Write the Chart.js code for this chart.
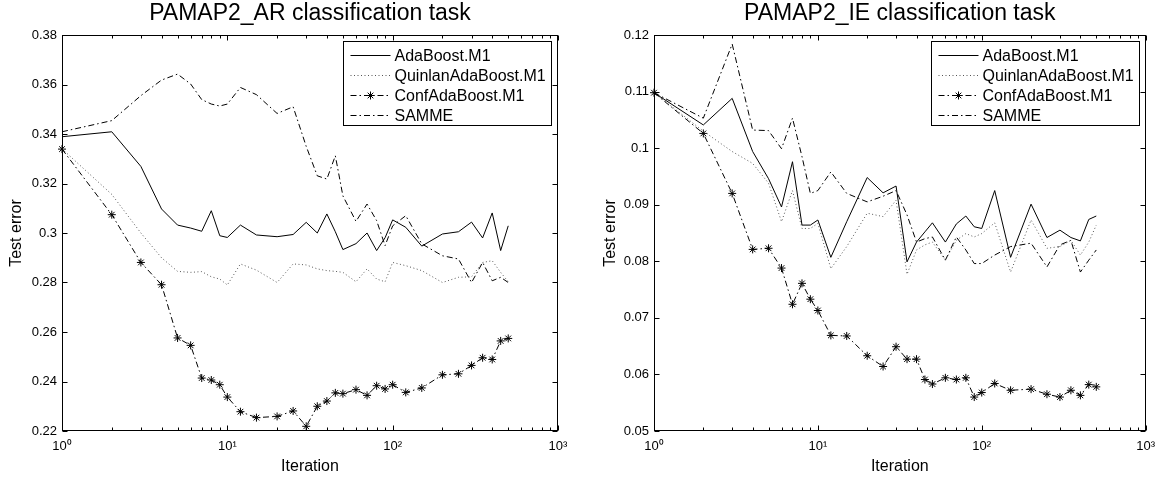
<!DOCTYPE html>
<html>
<head>
<meta charset="utf-8">
<script src="https://cdn.jsdelivr.net/npm/chart.js@4.4.1/dist/chart.umd.min.js"></script>
<style>
  body { margin: 0; background: #fff; }
  #wrap { position: relative; width: 1163px; height: 480px; }
  canvas { position: absolute; top: 0; }
</style>
</head>
<body>
<div id="wrap">
  <canvas id="arChart" width="581" height="480" style="left:0"></canvas>
  <canvas id="ieChart" width="571" height="480" style="left:592px"></canvas>
</div>
<script>
// boosting iterations (log x axis)
const iterations = [1, 2, 3, 4, 5, 6, 7, 8, 9, 10, 12, 15, 20, 25, 30, 35, 40, 45, 50,
  60, 70, 80, 90, 100, 120, 150, 200, 250, 300, 350, 400, 450, 500];

const seriesNames = ['AdaBoost.M1', 'QuinlanAdaBoost.M1', 'ConfAdaBoost.M1', 'SAMME'];

// PAMAP2_AR
const arAdaBoost = [0.3389, 0.3409, 0.3269, 0.3097, 0.3032, 0.3020, 0.3007, 0.3090, 0.2989, 0.2982,
  0.3032, 0.2992, 0.2985, 0.2994, 0.3043, 0.3000, 0.3077, 0.3005, 0.2933, 0.2957, 0.3000, 0.2929,
  0.2981, 0.3053, 0.3023, 0.2947, 0.2996, 0.3005, 0.3044, 0.2980, 0.3081, 0.2929, 0.3029];
const arQuinlan = [0.3340, 0.3156, 0.3000, 0.2900, 0.2845, 0.2841, 0.2844, 0.2823, 0.2814, 0.2790,
  0.2875, 0.2850, 0.2800, 0.2875, 0.2871, 0.2855, 0.2848, 0.2845, 0.2841, 0.2803, 0.2855, 0.2814,
  0.2803, 0.2881, 0.2868, 0.2848, 0.2800, 0.2821, 0.2823, 0.2881, 0.2888, 0.2841, 0.2803];
const arConf = [0.3339, 0.3074, 0.2881, 0.2791, 0.2576, 0.2546, 0.2414, 0.2406, 0.2387, 0.2337,
  0.2278, 0.2254, 0.2259, 0.2281, 0.2219, 0.2300, 0.2321, 0.2354, 0.2351, 0.2367, 0.2344, 0.2383,
  0.2370, 0.2387, 0.2356, 0.2374, 0.2427, 0.2431, 0.2465, 0.2496, 0.2489, 0.2564, 0.2574];
const arSamme = [0.3409, 0.3454, 0.3555, 0.3618, 0.3642, 0.3602, 0.3539, 0.3521, 0.3513, 0.3521,
  0.3588, 0.3559, 0.3483, 0.3510, 0.3350, 0.3231, 0.3218, 0.3312, 0.3150, 0.3047, 0.3117, 0.3050,
  0.2949, 0.3029, 0.3070, 0.2956, 0.2908, 0.2895, 0.2800, 0.2881, 0.2807, 0.2821, 0.2800];

// PAMAP2_IE
const ieAdaBoost = [0.1098, 0.1041, 0.1088, 0.0994, 0.0946, 0.0896, 0.0976, 0.0864, 0.0864, 0.0873,
  0.0807, 0.0870, 0.0948, 0.0921, 0.0933, 0.0799, 0.0834, 0.0852, 0.0868, 0.0834, 0.0866, 0.0880,
  0.0861, 0.0858, 0.0925, 0.0807, 0.0901, 0.0842, 0.0855, 0.0842, 0.0836, 0.0874, 0.0880];
const ieQuinlan = [0.1098, 0.1030, 0.0994, 0.0973, 0.0938, 0.0870, 0.0925, 0.0858, 0.0858, 0.0867,
  0.0787, 0.0826, 0.0885, 0.0879, 0.0908, 0.0777, 0.0820, 0.0829, 0.0834, 0.0802, 0.0837, 0.0849,
  0.0843, 0.0849, 0.0868, 0.0781, 0.0873, 0.0823, 0.0826, 0.0837, 0.0811, 0.0834, 0.0864];
const ieConf = [0.1098, 0.1026, 0.0920, 0.0821, 0.0823, 0.0788, 0.0724, 0.0761, 0.0733, 0.0713,
  0.0669, 0.0668, 0.0633, 0.0614, 0.0649, 0.0627, 0.0627, 0.0591, 0.0583, 0.0594, 0.0591, 0.0594,
  0.0560, 0.0568, 0.0584, 0.0572, 0.0574, 0.0565, 0.0560, 0.0572, 0.0563, 0.0582, 0.0578];
const ieSamme = [0.1098, 0.1053, 0.1184, 0.1032, 0.1031, 0.0999, 0.1053, 0.0985, 0.0920, 0.0925,
  0.0958, 0.0920, 0.0905, 0.0915, 0.0925, 0.0882, 0.0834, 0.0840, 0.0843, 0.0802, 0.0843, 0.0820,
  0.0796, 0.0796, 0.0811, 0.0826, 0.0832, 0.0790, 0.0829, 0.0837, 0.0781, 0.0802, 0.0820];

// ticks
const xMajorTicks = [1, 10, 100, 1000];
const xTickLabels = ['10\u2070', '10\u00b9', '10\u00b2', '10\u00b3'];
const xAllTicks = [1, 2, 3, 4, 5, 6, 7, 8, 9, 10, 20, 30, 40, 50, 60, 70, 80, 90,
  100, 200, 300, 400, 500, 600, 700, 800, 900, 1000];
const arYTicks = [0.22, 0.24, 0.26, 0.28, 0.30, 0.32, 0.34, 0.36, 0.38];
const ieYTicks = [0.05, 0.06, 0.07, 0.08, 0.09, 0.10, 0.11, 0.12];

Chart.defaults.font.family = '"Liberation Sans", Arial, Helvetica, sans-serif';
Chart.defaults.color = '#000';

const lineStyles = [
  { borderColor: '#000', borderDash: [], pointRadius: 0 },
  { borderColor: '#555', borderDash: [1, 2.5], pointRadius: 0 },
  { borderColor: '#000', borderDash: [6, 3, 1.5, 3], pointRadius: 4, pointStyle: 'star' },
  { borderColor: '#000', borderDash: [6, 3, 1.5, 3], pointRadius: 0 }
];

function drawStar(ctx, x, y, r) {
  if (Chart.helpers && Chart.helpers.drawPoint) {
    Chart.helpers.drawPoint(ctx, { pointStyle: 'star', radius: r, borderWidth: 1, rotation: 0 }, x, y);
  }
}

// MATLAB-like box, inward ticks and legend
const matlabAxes = {
  id: 'matlabAxes',
  afterDatasetsDraw(chart) {
    const { ctx, chartArea: a, scales: { x, y } } = chart;
    const L = Math.round(a.left) + 0.5, R = Math.round(a.right) - 0.5;
    const T = Math.round(a.top) + 0.5, B = Math.round(a.bottom) - 0.5;
    ctx.save();
    ctx.strokeStyle = '#000';
    ctx.lineWidth = 1;
    ctx.setLineDash([]);
    ctx.beginPath();
    x.ticks.forEach(t => {
      const px = Math.round(x.getPixelForValue(t.value)) + 0.5;
      const len = xMajorTicks.includes(t.value) ? 5 : 3;
      ctx.moveTo(px, B); ctx.lineTo(px, B - len);
      ctx.moveTo(px, T); ctx.lineTo(px, T + len);
    });
    y.ticks.forEach(t => {
      const py = Math.round(y.getPixelForValue(t.value)) + 0.5;
      ctx.moveTo(L, py); ctx.lineTo(L + 5, py);
      ctx.moveTo(R, py); ctx.lineTo(R - 5, py);
    });
    ctx.stroke();
    ctx.strokeRect(L, T, R - L, B - T);

    // legend
    const lx = Math.round(a.right - 215) + 0.5, ly = Math.round(a.top + 6) + 0.5;
    const lw = 208, lh = 84;
    ctx.fillStyle = '#fff';
    ctx.fillRect(lx, ly, lw, lh);
    ctx.strokeRect(lx, ly, lw, lh);
    ctx.font = '16px "Liberation Sans", Arial, sans-serif';
    ctx.textBaseline = 'middle';
    chart.data.datasets.forEach((ds, i) => {
      const yy = Math.round(ly + 13 + i * 20) + 0.5;
      ctx.strokeStyle = ds.borderColor;
      ctx.setLineDash(ds.borderDash);
      ctx.beginPath();
      ctx.moveTo(lx + 7, yy); ctx.lineTo(lx + 47, yy);
      ctx.stroke();
      ctx.setLineDash([]);
      ctx.strokeStyle = '#000';
      if (ds.pointRadius > 0) drawStar(ctx, lx + 27, yy, ds.pointRadius);
      ctx.fillStyle = '#000';
      ctx.fillText(ds.label, lx + 51, yy + 1);
    });
    ctx.restore();
  }
};

function makePanel(id, title, seriesValues, yTicks, rightPad, yTitlePad) {
  const datasets = seriesValues.map((vals, i) => Object.assign({
    label: seriesNames[i],
    data: iterations.map((it, k) => ({ x: it, y: vals[k] })),
    borderWidth: 1,
    fill: false,
    tension: 0,
    pointBorderColor: '#000',
    pointBackgroundColor: '#000',
    pointBorderWidth: 1,
    clip: false
  }, lineStyles[i]));

  return new Chart(document.getElementById(id), {
    type: 'line',
    data: { datasets },
    options: {
      responsive: false,
      animation: false,
      devicePixelRatio: 1,
      layout: { padding: { left: 0, right: rightPad, top: 0, bottom: 0 } },
      plugins: {
        legend: { display: false },
        tooltip: { enabled: false },
        title: {
          display: true, text: title, fullSize: false, color: '#000',
          font: { size: 23, weight: 'normal', lineHeight: 1.2 }, padding: { top: 0, bottom: 7.4 }
        }
      },
      scales: {
        x: {
          type: 'logarithmic', min: 1, max: 1000,
          afterBuildTicks: s => { s.ticks = xAllTicks.map(v => ({ value: v })); },
          afterFit: s => { s.height = 49; },
          grid: { display: false, drawTicks: false },
          border: { display: false },
          ticks: {
            autoSkip: false, maxRotation: 0, padding: 8, color: '#000', font: { size: 13 },
            callback: v => { const k = xMajorTicks.indexOf(v); return k < 0 ? '' : xTickLabels[k]; }
          },
          title: { display: true, text: 'Iteration', color: '#000', font: { size: 16 }, padding: { top: 0, bottom: 4 } }
        },
        y: {
          min: yTicks[0], max: yTicks[yTicks.length - 1],
          afterBuildTicks: s => { s.ticks = yTicks.map(v => ({ value: v })); },
          afterFit: s => { s.width = 62; },
          grid: { display: false, drawTicks: false },
          border: { display: false },
          ticks: { padding: 5, color: '#000', font: { size: 13 }, callback: v => String(+v.toFixed(2)) },
          title: { display: true, text: 'Test error', color: '#000', font: { size: 16 }, padding: { top: yTitlePad, bottom: 0 } }
        }
      }
    },
    plugins: [matlabAxes]
  });
}

makePanel('arChart', 'PAMAP2_AR classification task', [arAdaBoost, arQuinlan, arConf, arSamme], arYTicks, 23, 7);
makePanel('ieChart', 'PAMAP2_IE classification task', [ieAdaBoost, ieQuinlan, ieConf, ieSamme], ieYTicks, 13, 9);
</script>
</body>
</html>
